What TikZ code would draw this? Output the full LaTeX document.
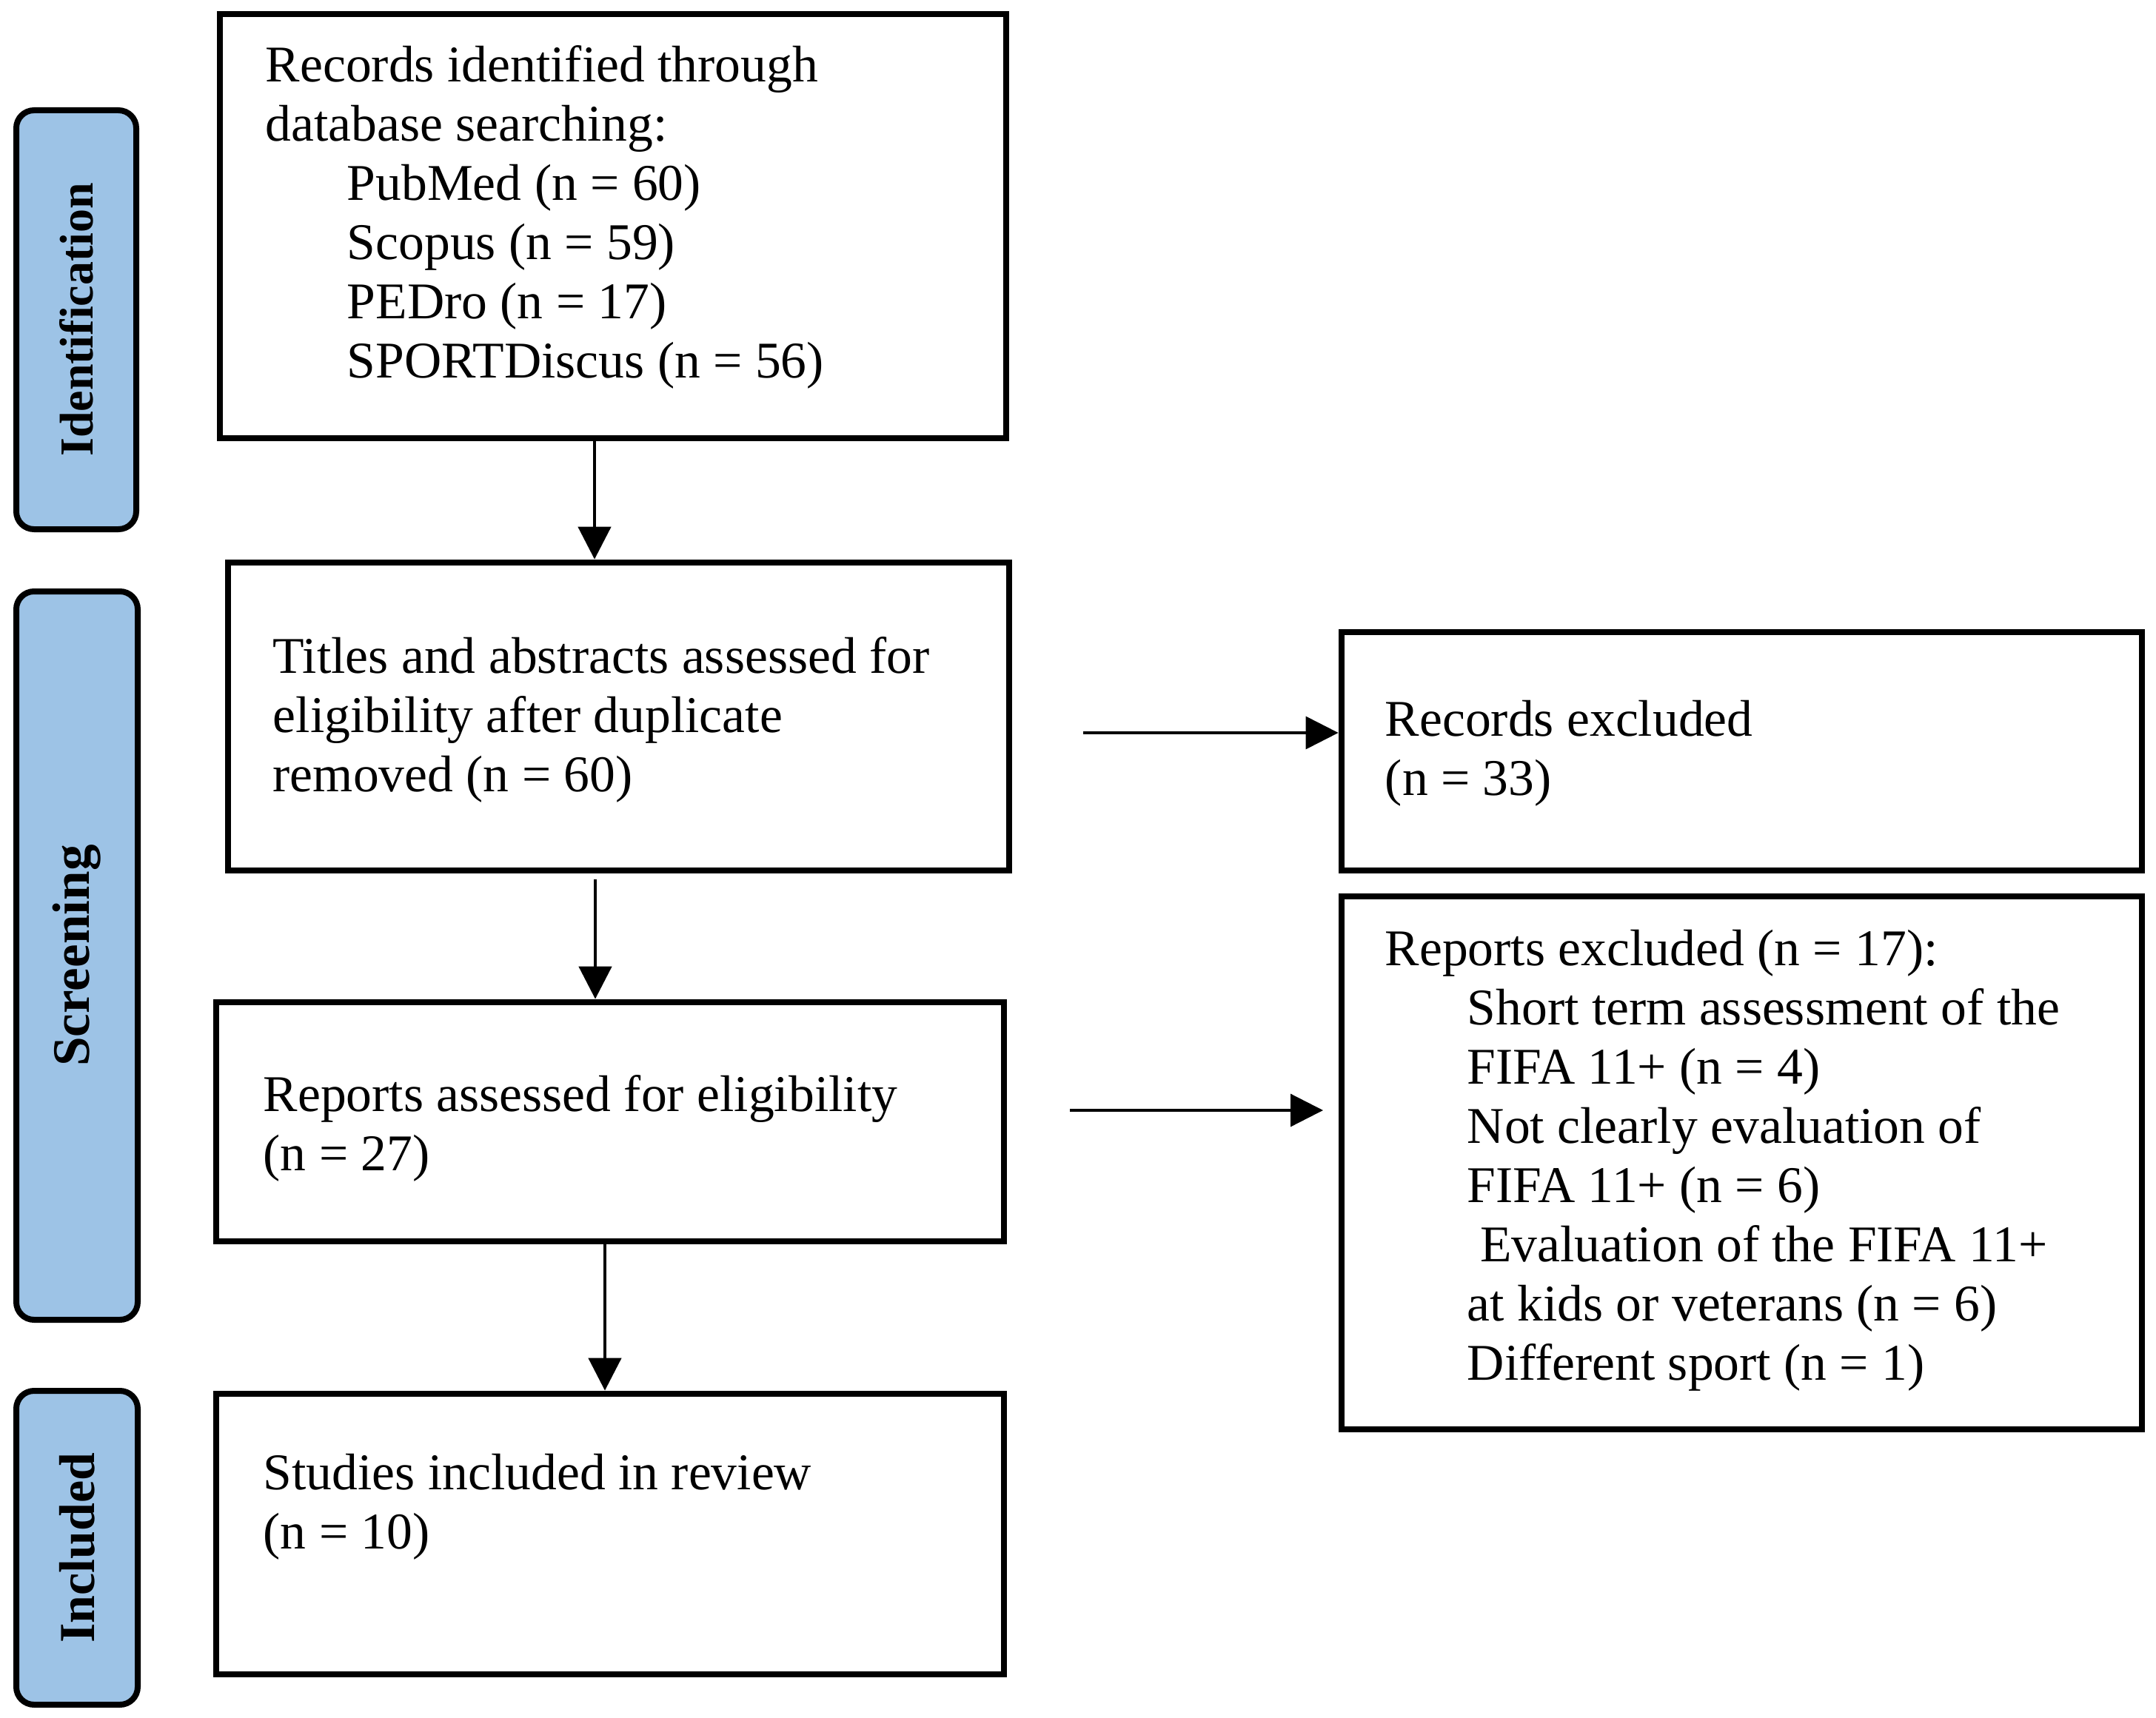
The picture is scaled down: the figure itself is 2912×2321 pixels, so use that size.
\documentclass[tikz,border=0pt]{standalone}
\usepackage{fontspec}
\setmainfont{Liberation Serif}
\usetikzlibrary{arrows.meta}
\definecolor{labblue}{HTML}{9DC3E6}
\tikzset{
  x=0.25pt, y=-0.25pt,
  box/.style={draw, line width=2.2pt, rectangle, inner sep=0pt},
  lab/.style={draw, line width=2pt, fill=labblue, rounded corners=6pt, rotate=90, inner sep=0pt,
    font=\fontsize{17}{20}\selectfont\bfseries},
  txt/.style={anchor=north west, inner sep=0pt, align=left, font=\fontsize{17.4}{20}\selectfont},
  arr/.style={line width=1.2pt, -{Triangle[length=11pt,width=11pt]}},
  harr/.style={line width=0.8pt, -{Triangle[length=11pt,width=11pt]}}
}
\begin{document}
\begin{tikzpicture}
\useasboundingbox (0,0) rectangle (2912,2321);
% phase labels
\node[lab, minimum width=141.5pt, minimum height=40.5pt, font=\fontsize{16}{20}\selectfont\bfseries] (l1) at (103,432) {Identification};
\node[lab, minimum width=246pt, minimum height=41pt, font=\fontsize{17.8}{20}\selectfont\bfseries] (l2) at (104,1291) {Screening};
\node[lab, minimum width=106pt, minimum height=41pt] (l3) at (104,2091) {Included};
% boxes
\node[box, minimum width=265.5pt, minimum height=143.25pt] (b1) at (828,305.5) {};
\node[box, minimum width=263.75pt, minimum height=104pt] (b2) at (835.5,968) {};
\node[box, minimum width=266pt, minimum height=80.75pt] (b3) at (824,1515.5) {};
\node[box, minimum width=266pt, minimum height=94.75pt] (b4) at (824,2072.5) {};
\node[box, minimum width=270.25pt, minimum height=80.5pt] (ra) at (2352.5,1015) {};
\node[box, minimum width=270.25pt, minimum height=180pt] (rb) at (2352.5,1571) {};
% texts
\node[txt] (t1) at (358,61) {Records identified through\\database searching:\\
\hspace*{27.5pt}PubMed (n = 60)\\\hspace*{27.5pt}Scopus (n = 59)\\
\hspace*{27.5pt}PEDro (n = 17)\\\hspace*{27.5pt}SPORTDiscus (n = 56)};
\node[txt] (t2) at (368,860) {Titles and abstracts assessed for\\eligibility after duplicate\\removed (n = 60)};
\node[txt] (t3) at (355,1452) {Reports assessed for eligibility\\(n = 27)};
\node[txt] (t4) at (355,1963) {Studies included in review\\(n = 10)};
\node[txt] (ta) at (1870,945) {Records excluded\\(n = 33)};
\node[txt] (tb) at (1870,1255) {Reports excluded (n = 17):\\
\hspace*{27.75pt}Short term assessment of the\\\hspace*{27.75pt}FIFA 11+ (n = 4)\\
\hspace*{27.75pt}Not clearly evaluation of\\\hspace*{27.75pt}FIFA 11+ (n = 6)\\
\hspace*{27.75pt}\ Evaluation of the FIFA 11+\\\hspace*{27.75pt}at kids or veterans (n = 6)\\
\hspace*{27.75pt}Different sport (n = 1)};
% arrows
\coordinate (x1) at (803,0);
\coordinate (x2) at (804,0);
\coordinate (x3) at (817,0);
\coordinate (sa) at (1463,990);
\coordinate (sb) at (1445,1500);
\coordinate (eb) at (1787,1500);
\coordinate (s2) at (804,1188);
\draw[arr] (b1.south -| x1) -- (b2.north -| x1);
\draw[arr] (s2) -- (b3.north -| x2);
\draw[arr] (b3.south -| x3) -- (b4.north -| x3);
\draw[harr] (sa) -- (ra.west |- sa);
\draw[harr] (sb) -- (eb);
\end{tikzpicture}
\end{document}
